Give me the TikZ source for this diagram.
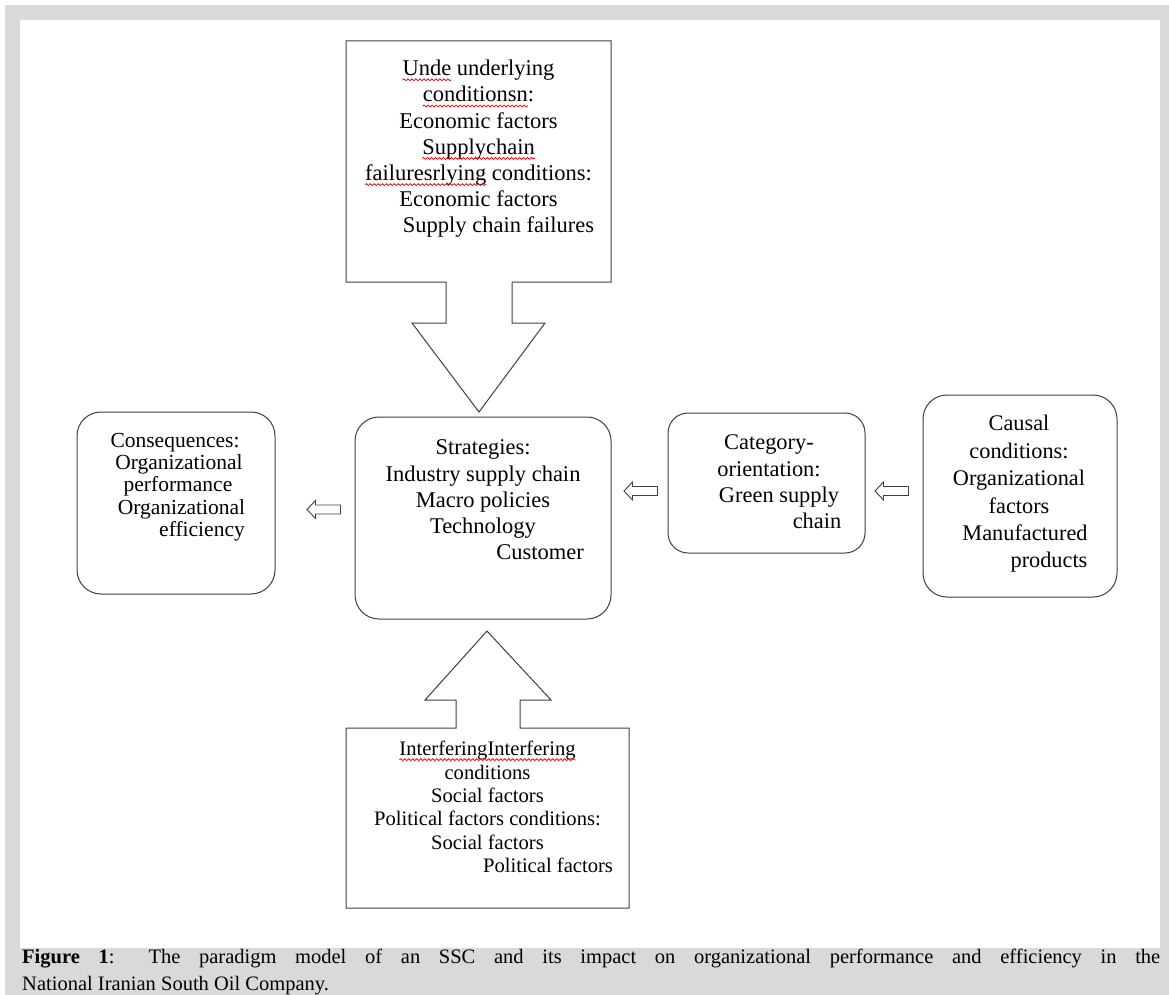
\documentclass[tikz,border=0pt]{standalone}
\usepackage{fontspec}
\setmainfont{Liberation Serif}
\usetikzlibrary{positioning}
\usetikzlibrary{decorations.pathmorphing}

\newcommand\squiggle[1]{\tikz[baseline=(w.base)]{\node[inner sep=0pt, outer sep=0pt] (w) {#1};
	\draw[overlay, red, line width=0.8pt, decorate, decoration={snake, amplitude=0.9pt, segment length=4pt}]
		([yshift=-4pt]w.base west) -- ([yshift=-4pt]w.base east);}}

\definecolor{framegray}{HTML}{D9D9D9}

\begin{document}
\begin{tikzpicture}[x=1pt, y=-1pt,
		line/.style={draw=black!75, line width=1pt},
		roundbox/.style={line, rounded corners=24pt, inner sep=0pt},
		txt/.style={align=center, inner sep=0pt, font=\fontsize{22.5}{26.2}\selectfont},
		hollow/.style={line, line width=0.9pt, line join=miter}]
				\useasboundingbox (0,0) rectangle (1169,995);
				\fill[white] (0,0) rectangle (1169,995);
				\fill[framegray] (5,5) rectangle (1169,995);
				\fill[white] (20,20) rectangle (1160,948);
				
				% top block with arrow down
				\coordinate (U1) at (346,41);
				\draw[line, line join=miter] (U1) -- (611,41) -- (611,282) -- (512,282) -- (512,323) -- (545,323)
					-- (479,412) -- (412,323) -- (446,323) -- (446,282) -- (346,282) -- cycle;
				\node[txt] (U) at (478.5,149) {\squiggle{Unde} underlying\\ \squiggle{conditionsn}:\\ Economic factors\\
					\squiggle{Supplychain}\\ \squiggle{failuresrlying} conditions:\\ Economic factors\\ \hspace*{40pt}Supply chain failures};
				
				% bottom block with arrow up
				\coordinate (I1) at (346,908);
				\draw[line, line join=miter] (I1) -- (346,728) -- (456,728) -- (456,700) -- (425,700) -- (487,631)
					-- (551,700) -- (520,700) -- (520,728) -- (629,728) -- (629,908) -- cycle;
				\node[txt, font=\fontsize{20.6}{23.4}\selectfont] (I) at (487.5,807) {\squiggle{InterferingInterfering}\\ conditions\\ Social factors\\
					Political factors conditions:\\ Social factors\\ \hspace*{121pt}Political factors};
				
				% rounded boxes
				\node[roundbox, minimum width=256pt, minimum height=202pt] (S) at (483,518) {};
				\node[txt] (St) at (483,500) {Strategies:\\ Industry supply chain\\ Macro policies\\ Technology\\ \hspace*{114pt}Customer};
				
				\node[roundbox, minimum width=198pt, minimum height=182pt] (C) at (176,503) {};
				\node[txt, font=\fontsize{21.5}{22.3}\selectfont] (Ct) at (175,487) {Consequences:\\ \hspace*{8pt}Organizational\\ \hspace*{6pt}performance\\
					\hspace*{13pt}Organizational\\ \hspace*{54pt}efficiency};
				
				\node[roundbox, rounded corners=20pt, minimum width=197pt, minimum height=140pt] (G) at (766.5,483) {};
				\node[txt, font=\fontsize{22.4}{26.3}\selectfont] (Gt) at (769,482) {Category-\\ orientation:\\ \hspace*{20pt}Green supply\\ \hspace*{96pt}chain};
				
				\node[roundbox, minimum width=194pt, minimum height=202pt] (K) at (1020,496) {};
				\node[txt, font=\fontsize{22.3}{27.4}\selectfont] (Kt) at (1019,494) {Causal\\ conditions:\\ Organizational\\ factors\\
					\hspace*{12pt}Manufactured\\ \hspace*{60pt}products};
				
				% small hollow arrows
				\coordinate (A1) at (307,509.5);
				\coordinate (A2) at (624,491);
				\coordinate (A3) at (875,491);
				\foreach \a in {A1,A2,A3}
					\draw[hollow] (\a) -- ++(8.5,-9) -- ++(0,4.5) -- ++(25,0) -- ++(0,9) -- ++(-25,0) -- ++(0,4.5) -- cycle;
				
				% caption
				\node[anchor=north west, align=left, inner sep=0pt, font=\fontsize{20.5}{26.5}\selectfont] (cap) at (22,949)
					{\makebox[1138pt][s]{\textbf{Figure 1}: The paradigm model of an SSC and its impact on organizational performance and efficiency in the}\\
					National Iranian South Oil Company.};
			\end{tikzpicture}
\end{document}
